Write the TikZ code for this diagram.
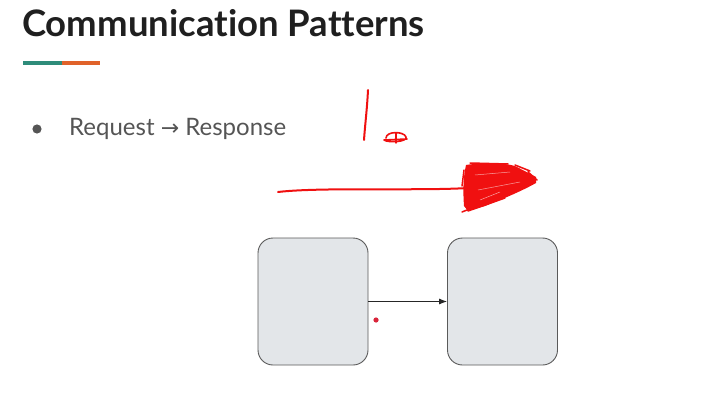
\documentclass[tikz,border=0pt]{standalone}
\usepackage{fontspec}
\setmainfont{Lato}[Ligatures={NoCommon}]
\newfontfamily\arrowfont{DejaVu Sans}
\usetikzlibrary{arrows.meta}
\definecolor{teal1}{HTML}{2E8C7A}
\definecolor{orange1}{HTML}{E0622A}
\definecolor{boxfill}{HTML}{E3E6E9}
\definecolor{boxline}{HTML}{5A5A5A}
\definecolor{ink}{HTML}{F01010}
\definecolor{dotred}{HTML}{D9243A}
\definecolor{bodygray}{HTML}{555555}
\tikzset{
  procbox/.style={draw=boxline, line width=0.9pt, fill=boxfill, rounded corners=15pt,
    minimum width=110pt, minimum height=127pt, inner sep=0pt},
  pen/.style={draw=ink, line width=2pt, line cap=round, line join=round},
  title/.style={font=\fontsize{36.5}{40}\selectfont\bfseries, text=black!88, anchor=base west, inner sep=0pt},
  bodytext/.style={font=\fontsize{24}{28}\selectfont, text=bodygray, anchor=base west, inner sep=0pt}
}
\begin{document}
\begin{tikzpicture}[x=1pt, y=-1pt]
  \useasboundingbox (0,0) rectangle (719,414);
  \fill[white] (0,0) rectangle (719,414);

  % heading and accent bar
  \node[title] (head) at (22,37) {Communication Patterns};
  \fill[teal1] (23,61.5) rectangle (62,65.5);
  \fill[orange1] (62,61.5) rectangle (100,65.5);

  % bullet point
  \fill[bodygray] (37,129) circle (4.6);
  \node[bodytext] (req) at (69,136) {Request {\arrowfont\fontsize{22}{24}\selectfont →} Response};

  % freehand annotations
  \draw[pen] (368,90) .. controls (367,110) and (365,125) .. (364,140);
  \draw[pen, line width=1.6pt] (386,138) .. controls (386,131) and (404,131) .. (406,137)
        .. controls (408,142) and (388,143) .. (384,140) -- (407,139);
  \draw[pen, line width=1.4pt] (396,133) -- (396,143);
  \draw[pen] (278,192) .. controls (320,187) and (420,191) .. (468,188);
  \fill[ink] (466,165) .. controls (485,162) and (505,163) .. (515,166)
        -- (536,177) -- (536,183)
        .. controls (520,192) and (500,200) .. (485,206)
        -- (468,211) -- (464,206)
        .. controls (463,192) and (463,178) .. (466,165) -- cycle;
  \draw[pen, line width=1.5pt] (470,163) -- (508,164) (472,208) -- (462,212)
        (528,172) -- (537,180) (505,198) -- (468,211) (464,170) -- (462,186)
        (515,165) -- (530,171);
  \draw[white, line width=0.5pt, opacity=0.6] (475,175) -- (510,172) (478,190) -- (520,182)
        (480,200) -- (500,192);

  % two process boxes joined by a connector
  \node[procbox] (src) at (313,301.5) {};
  \node[procbox] (dst) at (502.5,301.5) {};
  \draw[-{Latex[length=8pt,width=6pt]}, line width=0.8pt, black!85] (src.east) -- (dst.west);
  \fill[dotred] (376,320) circle (2.6);
\end{tikzpicture}
\end{document}
